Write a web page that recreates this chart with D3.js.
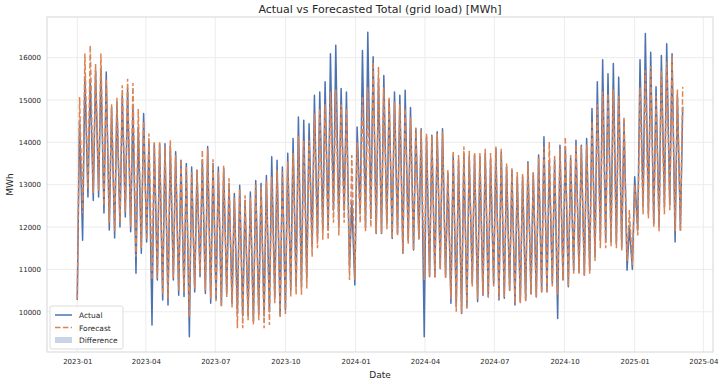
<!DOCTYPE html>
<html>
<head>
<meta charset="utf-8">
<script src="https://cdn.jsdelivr.net/npm/d3@7"></script>
<style>
  body { margin: 0; background: #fff; }
  text { font-family: "DejaVu Sans", sans-serif; fill: #262626; }
</style>
</head>
<body>
<div id="chart"></div>
<script>
// weekly readings: Sunday troughs and mid-week peaks, from 2023-01-01 on
const actualLow = [
  10280, 11690, 12710, 12630, 12710, 12330, 11930, 11740, 12000, 12240, 11890, 10910, 11380, 11650, 9690, 10750, 10280, 10160, 10750, 10390, 10360, 9410, 10470, 10830, 10430, 10200,
  10300, 10150, 10430, 10200, 9960, 9900, 9920, 9770, 9940, 9900, 10000, 10320, 9920, 10040, 10510, 10590, 10590, 10790, 11530, 11730, 11930, 11930, 12400, 12010, 12400, 11020, 10630, 12320, 12000,
  12200, 11850, 11850, 12080, 11730, 11850, 11380, 11690, 11460, 11730, 9410, 10830, 10830, 11020, 10830, 10200, 10120, 9960, 10120, 10670, 10240, 10390, 10350, 10670, 10280, 10320, 10510, 10160, 10240, 10280,
  10430, 10350, 10470, 10470, 10670, 9840, 10750, 10590, 10980, 10940, 10870, 10980, 11300, 11690, 11650, 11650, 11610, 11530, 10980, 11000, 11930, 12480, 12320, 12080, 12010, 12480, 12520, 11650, 11930
];
const actualHigh = [
  14500, 15540, 15460, 15700, 15750, 15660, 14830, 14950, 15100, 15270, 14820, 14360, 14680, 14000, 13970, 13970, 13970, 13900, 13780, 13580, 13500, 13420, 13340, 13580, 13900, 13500,
  13420, 13380, 13030, 12790, 12990, 12630, 12830, 13100, 13030, 13220, 13660, 13580, 13420, 13740, 14090, 14600, 14520, 14440, 15110, 15190, 15430, 16090, 16290, 15270, 15190, 12600, 14360, 16170, 16600,
  16020, 15500, 15580, 15000, 15190, 15110, 15230, 14820, 14320, 14320, 14130, 14170, 14250, 14320, 13260, 13700, 13580, 13740, 13660, 13700, 13660, 13740, 13620, 13850, 13770, 13420, 13340, 13190, 13190, 13540,
  13260, 13700, 14130, 13580, 13580, 13930, 13900, 13620, 14050, 13930, 14090, 14800, 15430, 15950, 15620, 15860, 15540, 14520, 12000, 13190, 15950, 16570, 16130, 15310, 16050, 16330, 16090, 15110, 14840
];
const forecastLow = [
  10300, 12320, 12900, 12800, 12850, 12500, 12100, 11900, 12100, 12350, 12000, 11300, 11500, 11700, 10750, 10800, 10400, 10300, 10800, 10500, 10450, 9880, 10550, 10900, 10500, 10300,
  10250, 10120, 10350, 10100, 9610, 9610, 9800, 9700, 9800, 9610, 9690, 10200, 9850, 9950, 10350, 10400, 10400, 10550, 11300, 11500, 11700, 11700, 12100, 11800, 12100, 10750, 10750, 12100, 11900,
  12000, 11850, 11850, 11950, 11730, 11800, 11380, 11600, 11460, 11700, 10750, 10830, 10800, 11020, 10800, 10300, 10000, 9960, 10050, 10600, 10300, 10400, 10350, 10600, 10300, 10350, 10500, 10200, 10200, 10250,
  10400, 10350, 10450, 10450, 10600, 10400, 10750, 10600, 10900, 10900, 10850, 10900, 11200, 11500, 11500, 11550, 11500, 11450, 11200, 11100, 11800, 12300, 12200, 12000, 11900, 12300, 12400, 11900, 11900
];
const forecastHigh = [
  15070, 16100, 16290, 15850, 16100, 15500, 14900, 15050, 15350, 15500, 15400, 14790, 14500, 14210, 14000, 14000, 13900, 14050, 13700, 13600, 13450, 13300, 13350, 13820, 13850, 13600,
  13300, 13450, 13150, 12700, 12900, 12750, 12700, 13000, 12950, 13100, 13190, 13350, 13300, 13550, 13750, 14150, 14050, 14050, 14680, 14800, 14900, 15200, 15250, 14900, 14800, 13700, 14000, 15100, 15300,
  15900, 15780, 15300, 15070, 14950, 14900, 14800, 14600, 14350, 14300, 14200, 14150, 14200, 14250, 13350, 13800, 13700, 13900, 13800, 13750, 13750, 13850, 13750, 13900, 13850, 13500, 13400, 13300, 13250, 13500,
  13300, 13650, 13900, 14010, 13700, 13850, 14130, 13700, 13950, 13900, 13950, 14500, 14900, 15200, 15150, 15250, 15100, 14600, 12400, 13000, 15300, 15700, 15800, 15100, 15700, 15900, 16050, 15250, 15310
];
const yTicks = [10000, 11000, 12000, 13000, 14000, 15000, 16000];
const legendItems = ["Actual", "Forecast", "Difference"];

const width = 724, height = 384;
const margin = {top: 17, right: 11, bottom: 32, left: 47};
const blue = "#4c72b0", orange = "#dd8452";

const start = new Date(2023, 0, 1);
const rows = [];
actualLow.forEach((v, k) => {
  rows.push({date: d3.timeDay.offset(start, 7 * k), actual: v, forecast: forecastLow[k]});
  rows.push({date: d3.timeDay.offset(start, 7 * k + 3), actual: actualHigh[k], forecast: forecastHigh[k]});
});

const svg = d3.select("#chart").append("svg")
    .attr("width", width)
    .attr("height", height);

// matplotlib-like 5% margins
const tExt = d3.extent(rows, d => d.date);
const tPad = (tExt[1] - tExt[0]) * 0.05;
const vMin = d3.min(rows, d => Math.min(d.actual, d.forecast));
const vMax = d3.max(rows, d => Math.max(d.actual, d.forecast));
const vPad = (vMax - vMin) * 0.05;

const x = d3.scaleTime()
    .domain([new Date(+tExt[0] - tPad), new Date(+tExt[1] + tPad)])
    .range([margin.left, width - margin.right]);
const y = d3.scaleLinear()
    .domain([vMin - vPad, vMax + vPad])
    .range([height - margin.bottom, margin.top]);

const xTicks = x.ticks(d3.timeMonth.every(3));

// grid
svg.append("g")
    .attr("stroke", "#ececec")
  .selectAll("line.h")
  .data(yTicks)
  .join("line")
    .attr("x1", margin.left).attr("x2", width - margin.right)
    .attr("y1", d => y(d)).attr("y2", d => y(d));
svg.append("g")
    .attr("stroke", "#ececec")
  .selectAll("line.v")
  .data(xTicks)
  .join("line")
    .attr("x1", d => x(d)).attr("x2", d => x(d))
    .attr("y1", margin.top).attr("y2", height - margin.bottom);

// difference band
svg.append("path")
    .datum(rows)
    .attr("fill", blue)
    .attr("fill-opacity", 0.3)
    .attr("d", d3.area()
        .x(d => x(d.date))
        .y0(d => y(d.actual))
        .y1(d => y(d.forecast)));

svg.append("path")
    .datum(rows)
    .attr("fill", "none")
    .attr("stroke", blue)
    .attr("stroke-width", 1.5)
    .attr("stroke-linejoin", "round")
    .attr("d", d3.line().x(d => x(d.date)).y(d => y(d.actual)));

svg.append("path")
    .datum(rows)
    .attr("fill", "none")
    .attr("stroke", orange)
    .attr("stroke-width", 1.5)
    .attr("stroke-dasharray", "5.5,2.4")
    .attr("d", d3.line().x(d => x(d.date)).y(d => y(d.forecast)));

// frame
svg.append("rect")
    .attr("x", margin.left).attr("y", margin.top)
    .attr("width", width - margin.left - margin.right)
    .attr("height", height - margin.top - margin.bottom)
    .attr("fill", "none")
    .attr("stroke", "#d6d6d6");

// axes
const xAxis = svg.append("g")
    .attr("transform", `translate(0,${height - margin.bottom})`)
    .call(d3.axisBottom(x).tickValues(xTicks).tickFormat(d3.timeFormat("%Y-%m")).tickSize(0).tickPadding(7));
const yAxis = svg.append("g")
    .attr("transform", `translate(${margin.left},0)`)
    .call(d3.axisLeft(y).tickValues(yTicks).tickFormat(d3.format("d")).tickSize(0).tickPadding(6));
[xAxis, yAxis].forEach(a => {
  a.select(".domain").remove();
  a.selectAll("text").attr("font-size", 7).attr("font-family", "DejaVu Sans").attr("fill", "#262626");
});

svg.append("text")
    .attr("x", (margin.left + width - margin.right) / 2)
    .attr("y", 13)
    .attr("text-anchor", "middle")
    .attr("font-size", 11)
    .text("Actual vs Forecasted Total (grid load) [MWh]");
svg.append("text")
    .attr("x", (margin.left + width - margin.right) / 2)
    .attr("y", 378)
    .attr("text-anchor", "middle")
    .attr("font-size", 9)
    .text("Date");
svg.append("text")
    .attr("transform", `translate(13,${(margin.top + height - margin.bottom) / 2}) rotate(-90)`)
    .attr("text-anchor", "middle")
    .attr("font-size", 9)
    .text("MWh");

// legend
const lg = svg.append("g").attr("transform", "translate(50,306)");
lg.append("rect")
    .attr("width", 73).attr("height", 43).attr("rx", 2)
    .attr("fill", "#fff").attr("fill-opacity", 0.8)
    .attr("stroke", "#dcdcdc");
const item = lg.selectAll("g.item")
  .data(legendItems)
  .join("g")
    .attr("transform", (d, i) => `translate(5,${9 + i * 12.5})`);
item.filter((d, i) => i < 2).append("line")
    .attr("x1", 0).attr("x2", 17)
    .attr("stroke", (d, i) => i === 0 ? blue : orange)
    .attr("stroke-width", 1.5)
    .attr("stroke-dasharray", (d, i) => i === 1 ? "5.5,2.4" : null);
item.filter((d, i) => i === 2).append("rect")
    .attr("x", 0).attr("y", -3).attr("width", 17).attr("height", 6)
    .attr("fill", blue).attr("fill-opacity", 0.3);
item.append("text")
    .attr("x", 24).attr("y", 3)
    .attr("font-size", 7.5)
    .text(d => d);
</script>
</body>
</html>
